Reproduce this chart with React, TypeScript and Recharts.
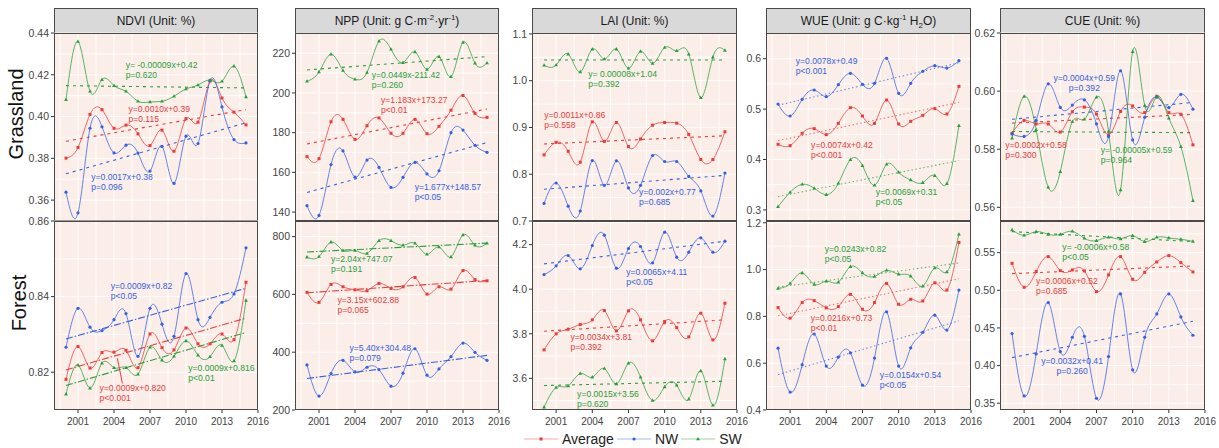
import React from 'react';
import { LineChart, Line, XAxis, YAxis, CartesianGrid, ReferenceDot, ReferenceLine } from 'recharts';

const RED = '#EC3B3B';
const BLUE = '#3461E4';
const GREEN = '#27A03A';
const BG = '#FBEEE8';
const FONT = '"Liberation Sans", Arial, Helvetica, sans-serif';

const years = [2000, 2001, 2002, 2003, 2004, 2005, 2006, 2007, 2008, 2009, 2010, 2011, 2012, 2013, 2014, 2015];
const trendYears = [2000, 2015];
const xTicks = [2001, 2004, 2007, 2010, 2013, 2016];
const seriesNames = ['Average', 'NW', 'SW'];

// ---- NDVI ----
const ndviG_avg = [0.3801, 0.3852, 0.4010, 0.4033, 0.3944, 0.3959, 0.3917, 0.3861, 0.3935, 0.3834, 0.3990, 0.3973, 0.4170, 0.4089, 0.4021, 0.3960];
const ndviG_nw = [0.3638, 0.3539, 0.3944, 0.3951, 0.3826, 0.3863, 0.3825, 0.3739, 0.3857, 0.3680, 0.3906, 0.3871, 0.4172, 0.4046, 0.3890, 0.3874];
const ndviG_sw = [0.4081, 0.4359, 0.4121, 0.4177, 0.4148, 0.4121, 0.4073, 0.4070, 0.4073, 0.4097, 0.4132, 0.4151, 0.4174, 0.4169, 0.4241, 0.4094];
const ndviG_tAvg = [0.3882, 0.4033];
const ndviG_tNw = [0.3726, 0.3970];
const ndviG_tSw = [0.4148, 0.4137];

const ndviF_avg = [0.8181, 0.8268, 0.8211, 0.8252, 0.8253, 0.8258, 0.8212, 0.8301, 0.8265, 0.8259, 0.8317, 0.8275, 0.8275, 0.8301, 0.8286, 0.8438];
const ndviF_nw = [0.8266, 0.8369, 0.8319, 0.8310, 0.8339, 0.8355, 0.8242, 0.8369, 0.8327, 0.8295, 0.8461, 0.8339, 0.8345, 0.8385, 0.8407, 0.8529];
const ndviF_sw = [0.8142, 0.8219, 0.8158, 0.8224, 0.8212, 0.8212, 0.8195, 0.8266, 0.8232, 0.8242, 0.8283, 0.8245, 0.8241, 0.8271, 0.8230, 0.8390];
const ndviF_tAvg = [0.8206, 0.8343];
const ndviF_tNw = [0.8288, 0.8422];
const ndviF_tSw = [0.8165, 0.8305];

// ---- NPP ----
const nppG_avg = [167.9, 166.9, 185.5, 186.7, 176.6, 183.5, 187.4, 179.7, 179.7, 186.7, 179.5, 183.2, 191.3, 198.7, 189.7, 187.7];
const nppG_nw = [143.2, 138.3, 163.9, 170.8, 157.6, 166.2, 162.5, 152.4, 157.5, 165.0, 159.2, 160.8, 180.0, 181.3, 173.6, 170.1];
const nppG_sw = [205.9, 210.6, 219.5, 211.3, 206.9, 210.3, 226.1, 222.0, 215.3, 220.7, 211.9, 218.3, 208.2, 225.5, 215.0, 215.1];
const nppG_tAvg = [174.3, 191.9];
const nppG_tNw = [149.9, 175.0];
const nppG_tSw = [211.6, 218.3];

const nppF_avg = [606.9, 572.5, 634.4, 626.4, 616.0, 612.6, 637.8, 620.6, 626.4, 658.4, 601.0, 626.4, 618.3, 682.5, 651.6, 647.0];
const nppF_nw = [355.9, 248.2, 326.0, 372.0, 331.8, 347.9, 339.9, 282.6, 327.3, 412.0, 320.4, 342.2, 384.5, 431.5, 399.5, 372.0];
const nppF_sw = [729, 731, 781, 752, 752, 742, 786, 786, 770, 777, 739, 764, 730, 806, 770, 777];
const nppF_tAvg = [605.7, 648.0];
const nppF_tNw = [309.0, 389.0];
const nppF_tSw = [746.7, 777.6];

// ---- LAI ----
const laiG_avg = [0.8413, 0.8682, 0.8491, 0.8258, 0.9120, 0.8703, 0.9106, 0.8590, 0.8753, 0.9049, 0.9106, 0.9092, 0.8852, 0.8314, 0.8314, 0.8908];
const laiG_nw = [0.7375, 0.7813, 0.7318, 0.7212, 0.8293, 0.7763, 0.8286, 0.7707, 0.7763, 0.8399, 0.8272, 0.8272, 0.7954, 0.7643, 0.7106, 0.8025];
const laiG_sw = [1.0329, 1.0336, 1.0569, 1.0187, 1.0675, 1.0463, 1.0675, 1.0265, 1.0625, 1.0371, 1.0710, 1.0640, 1.0569, 0.9636, 1.0505, 1.0647];
const laiG_tAvg = [0.8647, 0.8823];
const laiG_tNw = [0.7678, 0.7975];
const laiG_tSw = [1.0442, 1.0442];

const laiF_avg = [3.7277, 3.7996, 3.8205, 3.8414, 3.8624, 3.9043, 3.8130, 3.9028, 3.8624, 3.7681, 3.8549, 3.8280, 3.7861, 3.8923, 3.7726, 3.9372];
const laiF_nw = [4.0658, 4.1047, 4.1511, 4.0912, 4.1960, 4.2423, 4.0942, 4.1825, 4.1915, 4.1182, 4.2558, 4.1436, 4.1660, 4.2304, 4.1660, 4.2154];
const laiF_sw = [3.4705, 3.5587, 3.5662, 3.6215, 3.6051, 3.6439, 3.5752, 3.6679, 3.6051, 3.5004, 3.5617, 3.5692, 3.5064, 3.6335, 3.4794, 3.6874];
const laiF_tAvg = [3.8115, 3.8624];
const laiF_tNw = [4.1137, 4.2154];
const laiF_tSw = [3.5677, 3.5871];

// ---- WUE ----
const wueG_avg = [0.4301, 0.4275, 0.4520, 0.4612, 0.4493, 0.4718, 0.5028, 0.4863, 0.4718, 0.5180, 0.4705, 0.4757, 0.4876, 0.5009, 0.4903, 0.5451];
const wueG_nw = [0.5101, 0.4863, 0.5194, 0.5379, 0.5247, 0.5484, 0.5709, 0.5491, 0.5511, 0.6007, 0.5313, 0.5511, 0.5749, 0.5861, 0.5815, 0.5960];
const wueG_sw = [0.3065, 0.3350, 0.3508, 0.3429, 0.3303, 0.3528, 0.3997, 0.3878, 0.3488, 0.3905, 0.3746, 0.3594, 0.3541, 0.3680, 0.3521, 0.4672];
const wueG_tAvg = [0.4374, 0.5134];
const wueG_tNw = [0.5075, 0.5921];
const wueG_tSw = [0.3264, 0.3978];

const wueF_avg = [0.8377, 0.7925, 0.8589, 0.8673, 0.8363, 0.8419, 0.8941, 0.8306, 0.8589, 0.9407, 0.8518, 0.8730, 0.8659, 0.9435, 0.9125, 1.1157];
const wueF_nw = [0.6641, 0.4764, 0.5935, 0.7248, 0.5879, 0.6260, 0.6443, 0.5060, 0.6217, 0.8193, 0.5879, 0.6655, 0.7318, 0.8052, 0.7417, 0.9125];
const wueF_sw = [0.9195, 0.9407, 0.9859, 0.9365, 0.9506, 0.9464, 1.0127, 0.9859, 0.9704, 0.9972, 0.9802, 0.9718, 0.9294, 1.0071, 0.9901, 1.1510];
const wueF_tAvg = [0.8024, 0.9605];
const wueF_tNw = [0.5512, 0.7812];
const wueF_tSw = [0.9252, 1.0282];

// ---- CUE ----
const cueG_avg = [0.5855, 0.5899, 0.5887, 0.5887, 0.5859, 0.5929, 0.5945, 0.5921, 0.5849, 0.5930, 0.5949, 0.5926, 0.5982, 0.5926, 0.5920, 0.5815];
const cueG_nw = [0.5852, 0.5844, 0.5899, 0.6025, 0.5944, 0.5952, 0.5970, 0.5887, 0.5844, 0.6070, 0.5832, 0.5910, 0.5979, 0.5943, 0.5989, 0.5938];
const cueG_sw = [0.5838, 0.5982, 0.5867, 0.5669, 0.5723, 0.5895, 0.5903, 0.5979, 0.5861, 0.5660, 0.6136, 0.5951, 0.5982, 0.5907, 0.5809, 0.5623];
const cueG_tAvg = [0.5890, 0.5920];
const cueG_tNw = [0.5903, 0.5961];
const cueG_tSw = [0.5861, 0.5857];

const cueF_avg = [0.5358, 0.5040, 0.5248, 0.5447, 0.5261, 0.5270, 0.5257, 0.4982, 0.5204, 0.5447, 0.5146, 0.5239, 0.5376, 0.5460, 0.5367, 0.5243];
const cueF_nw = [0.4425, 0.3597, 0.4155, 0.4836, 0.4186, 0.4376, 0.4389, 0.3566, 0.4119, 0.4951, 0.3942, 0.4376, 0.4686, 0.4951, 0.4646, 0.4403];
const cueF_sw = [0.5801, 0.5730, 0.5779, 0.5743, 0.5743, 0.5783, 0.5690, 0.5659, 0.5704, 0.5682, 0.5726, 0.5646, 0.5704, 0.5695, 0.5677, 0.5650];
const cueF_tAvg = [0.5221, 0.5323];
const cueF_tNw = [0.4106, 0.4588];
const cueF_tSw = [0.5779, 0.5646];

// ---- Regression notes (text, anchored at year / value) ----
type Note = { s: 'avg' | 'nw' | 'sw'; x: number; y: number; lines: string[]; center?: boolean };

const ndviG_notes: Note[] = [
  { s: 'sw', x: 2004.98, y: 0.4247, lines: ['y= -0.00009x+0.42', 'p=0.620'] },
  { s: 'avg', x: 2005.2, y: 0.4038, lines: ['y=0.0010x+0.39', 'p=0.115'] },
  { s: 'nw', x: 2002.1, y: 0.371, lines: ['y=0.0017x+0.38', 'p=0.096'] },
];
const ndviF_notes: Note[] = [
  { s: 'nw', x: 2003.72, y: 0.8429, lines: ['y=0.0009x+0.82', 'p<0.05'] },
  { s: 'avg', x: 2002.79, y: 0.8159, lines: ['y=0.0009x+0.820', 'p<0.001'] },
  { s: 'sw', x: 2010.18, y: 0.8211, lines: ['y=0.0009x+0.816', 'p<0.01'] },
];
const nppG_notes: Note[] = [
  { s: 'sw', x: 2005.39, y: 208.9, lines: ['y=0.0449x-211.42', 'p=0.260'] },
  { s: 'avg', x: 2006.17, y: 196.5, lines: ['y=1.183x+173.27', 'p<0.01'] },
  { s: 'nw', x: 2008.97, y: 152.4, lines: ['y=1.677x+148.57', 'p<0.05'] },
];
const nppF_notes: Note[] = [
  { s: 'sw', x: 2001.99, y: 721.5, lines: ['y=2.04x+747.07', 'p=0.191'] },
  { s: 'avg', x: 2002.54, y: 579.4, lines: ['y=3.15x+602.88', 'p=0.065'] },
  { s: 'nw', x: 2003.54, y: 414.3, lines: ['y=5.40x+304.48', 'p=0.079'] },
];
const laiG_notes: Note[] = [
  { s: 'sw', x: 2003.66, y: 1.0138, lines: ['y= 0.00008x+1.04', 'p=0.392'] },
  { s: 'avg', x: 2000.02, y: 0.9269, lines: ['y=0.0011x+0.86', 'p=0.558'] },
  { s: 'nw', x: 2007.87, y: 0.7615, lines: ['y=0.002x+0.77', 'p=0.685'] },
];
const laiF_notes: Note[] = [
  { s: 'nw', x: 2006.82, y: 4.0778, lines: ['y=0.0065x+4.11', 'p<0.05'] },
  { s: 'avg', x: 2002.19, y: 3.7846, lines: ['y=0.0034x+3.81', 'p=0.392'] },
  { s: 'sw', x: 2002.74, y: 3.5303, lines: ['y=0.0015x+3.56', 'p=0.620'] },
];
const wueG_notes: Note[] = [
  { s: 'nw', x: 2001.47, y: 0.5954, lines: ['y=0.0078x+0.49', 'p<0.001'] },
  { s: 'avg', x: 2002.74, y: 0.4288, lines: ['y=0.0074x+0.42', 'p<0.001'] },
  { s: 'sw', x: 2008.1, y: 0.3356, lines: ['y=0.0069x+0.31', 'p<0.05'] },
];
const wueF_notes: Note[] = [
  { s: 'sw', x: 2003.87, y: 1.0875, lines: ['y=0.0243x+0.82', 'p<0.05'] },
  { s: 'avg', x: 2002.71, y: 0.7925, lines: ['y=0.0216x+0.73', 'p<0.01'] },
  { s: 'nw', x: 2008.43, y: 0.5483, lines: ['y=0.0154x+0.54', 'p<0.05'] },
];
const cueG_notes: Note[] = [
  { s: 'nw', x: 2005.99, y: 0.6044, lines: ['y=0.0004x+0.59', 'p=0.392'], center: true },
  { s: 'avg', x: 1999.43, y: 0.5814, lines: ['y=0.0002x+0.58', 'p=0.300'] },
  { s: 'sw', x: 2007.35, y: 0.5799, lines: ['y= -0.00005x+0.59', 'p=0.964'] },
];
const cueF_notes: Note[] = [
  { s: 'sw', x: 2004.17, y: 0.5571, lines: ['y= -0.0006x+0.58', 'p<0.05'] },
  { s: 'avg', x: 2001.99, y: 0.5119, lines: ['y=0.0006x+0.52', 'p=0.685'] },
  { s: 'nw', x: 2004.98, y: 0.4066, lines: ['y=0.0032x+0.41', 'p=0.260'], center: true },
];

const COLORS: Record<string, string> = { avg: RED, nw: BLUE, sw: GREEN };

const sqDot = (p: any) => (
  <rect key={`a${p.index}`} x={p.cx - 1.5} y={p.cy - 1.5} width={3} height={3} fill={RED} />
);
const circDot = (p: any) => <circle key={`n${p.index}`} cx={p.cx} cy={p.cy} r={1.6} fill={BLUE} />;
const triDot = (p: any) => (
  <path
    key={`s${p.index}`}
    d={`M${p.cx},${p.cy - 2.1} L${p.cx + 1.9},${p.cy + 1.3} L${p.cx - 1.9},${p.cy + 1.3} Z`}
    fill={GREEN}
  />
);

type PanelProps = {
  left: number;
  width: number;
  top: number;
  height: number;
  showX: boolean;
  domain: [number, number];
  ticks: number[];
  dec: number;
  avg: number[];
  nw: number[];
  sw: number[];
  tAvg: number[];
  tNw: number[];
  tSw: number[];
  notes: Note[];
  dash: string;
  trendOpacity?: number;
  arrow?: { x: number; y: number }[];
};

function Panel(props: PanelProps) {
  const { left, width, top, height, showX, domain, ticks, dec, avg, nw, sw, tAvg, tNw, tSw, notes, dash, arrow } = props;
  const yW = 46;
  const mT = 8;
  const mR = 18;
  const mB = showX ? 0 : 8;
  const xH = showX ? 26 : 0;
  const rows = years.map((yr, i) => ({ year: yr, avg: avg[i], nw: nw[i], sw: sw[i] }));
  const trendRows = trendYears.map((yr, i) => ({ year: yr, avg: tAvg[i], nw: tNw[i], sw: tSw[i] }));
  const step = ticks[1] - ticks[0];
  const hVals: number[] = [];
  for (let v = ticks[0] - step / 2; v <= domain[1] + 1e-9; v += step / 2) if (v >= domain[0] - 1e-9) hVals.push(v);
  const vVals: number[] = [];
  for (let v = 1999.5; v <= 2016.01; v += 1.5) vVals.push(v);
  const W = yW + width + mR;
  const H = mT + height + xH + mB;
  const op = props.trendOpacity ?? 1;
  return (
    <div style={{ position: 'absolute', left: left - yW, top: top - mT, width: W, height: H }}>
      <LineChart width={W} height={H} data={rows} margin={{ top: mT, right: mR, bottom: mB, left: 0 }}>
        <CartesianGrid
          fill={BG}
          fillOpacity={1}
          stroke="#ffffff"
          strokeWidth={0.9}
          horizontalValues={hVals}
          verticalValues={vVals}
        />
        <XAxis
          dataKey="year"
          type="number"
          domain={[1999, 2016]}
          ticks={xTicks}
          allowDataOverflow
          hide={!showX}
          height={xH}
          interval={0}
          tickSize={3}
          tickMargin={5}
          axisLine={false}
          tickLine={{ stroke: '#333' }}
          tick={{ fontSize: 10, fill: '#444', fontFamily: FONT }}
        />
        <YAxis
          type="number"
          domain={domain}
          ticks={ticks}
          allowDataOverflow
          width={yW}
          interval={0}
          tickSize={3}
          tickMargin={2}
          axisLine={false}
          tickLine={{ stroke: '#333' }}
          tick={{ fontSize: 10.5, fill: '#444', fontFamily: FONT }}
          tickFormatter={(v: number) => Number(v).toFixed(dec)}
        />
        {(['avg', 'nw', 'sw'] as const).map((k) => (
          <Line
            key={`t-${k}`}
            data={trendRows}
            dataKey={k}
            type="linear"
            stroke={COLORS[k]}
            strokeOpacity={op}
            strokeWidth={1.1}
            strokeDasharray={dash}
            dot={false}
            activeDot={false}
            isAnimationActive={false}
            legendType="none"
          />
        ))}
        <Line dataKey="avg" name={seriesNames[0]} type="natural" stroke={RED} strokeOpacity={0.85} strokeWidth={0.9} dot={sqDot} activeDot={false} isAnimationActive={false} />
        <Line dataKey="nw" name={seriesNames[1]} type="natural" stroke={BLUE} strokeOpacity={0.85} strokeWidth={0.9} dot={circDot} activeDot={false} isAnimationActive={false} />
        <Line dataKey="sw" name={seriesNames[2]} type="natural" stroke={GREEN} strokeOpacity={0.85} strokeWidth={0.9} dot={triDot} activeDot={false} isAnimationActive={false} />
        {arrow ? (
          <ReferenceLine segment={arrow} stroke={RED} strokeWidth={1} ifOverflow="visible" />
        ) : null}
        {notes.map((n, i) => (
          <ReferenceDot
            key={`note-${i}`}
            x={n.x}
            y={n.y}
            r={0}
            ifOverflow="visible"
            shape={(p: any) => (
              <text
                x={p.cx}
                y={p.cy + 3}
                fill={COLORS[n.s]}
                fontSize={8.6}
                fontFamily={FONT}
                textAnchor={n.center ? 'middle' : 'start'}
              >
                {n.lines.map((ln, j) => (
                  <tspan key={j} x={p.cx} dy={j === 0 ? 0 : 10}>
                    {ln}
                  </tspan>
                ))}
              </text>
            )}
          />
        ))}
      </LineChart>
      <div
        style={{
          position: 'absolute',
          left: yW,
          top: mT,
          width,
          height,
          border: '1px solid #4a4a4a',
          boxSizing: 'border-box',
          pointerEvents: 'none',
        }}
      />
    </div>
  );
}

const COL_LEFT = [54, 295, 532, 766, 1000];
const COL_W = [204, 204, 205, 205, 205];
const ROW1_TOP = 33;
const ROW1_H = 188;
const ROW2_TOP = 221;
const ROW2_H = 189;

function Header({ col, children }: { col: number; children: React.ReactNode }) {
  return (
    <div
      style={{
        position: 'absolute',
        left: COL_LEFT[col],
        top: 8,
        width: COL_W[col],
        height: 26,
        background: '#D9D9D9',
        border: '1px solid #4a4a4a',
        boxSizing: 'border-box',
        display: 'flex',
        alignItems: 'center',
        justifyContent: 'center',
        fontSize: 12,
        color: '#1a1a1a',
        fontFamily: FONT,
        whiteSpace: 'nowrap',
      }}
    >
      {children}
    </div>
  );
}

const supStyle: React.CSSProperties = { fontSize: 8, verticalAlign: 'super', lineHeight: 0 };
const subStyle: React.CSSProperties = { fontSize: 8, verticalAlign: 'sub', lineHeight: 0 };

function LegendKey({ color, shape }: { color: string; shape: 'sq' | 'c' | 't' }) {
  return (
    <svg width={34} height={12} style={{ display: 'block' }}>
      <line x1={0} y1={6} x2={34} y2={6} stroke={color} strokeOpacity={0.45} strokeWidth={1.2} />
      {shape === 'sq' ? <rect x={15.5} y={4.5} width={3} height={3} fill={color} /> : null}
      {shape === 'c' ? <circle cx={17} cy={6} r={1.6} fill={color} /> : null}
      {shape === 't' ? <path d="M17,3.9 L18.9,7.3 L15.1,7.3 Z" fill={color} /> : null}
    </svg>
  );
}

export default function App() {
  return (
    <div
      style={{
        position: 'absolute',
        left: 0,
        top: 0,
        width: 1219,
        height: 448,
        background: '#ffffff',
        overflow: 'hidden',
        fontFamily: FONT,
      }}
    >
      <Header col={0}>NDVI (Unit: %)</Header>
      <Header col={1}>
        <span>
          NPP (Unit: g C·m<span style={supStyle}>-2</span>·yr<span style={supStyle}>-1</span>)
        </span>
      </Header>
      <Header col={2}>LAI (Unit: %)</Header>
      <Header col={3}>
        <span>
          WUE (Unit: g C·kg<span style={supStyle}>-1</span> H<span style={subStyle}>2</span>O)
        </span>
      </Header>
      <Header col={4}>CUE (Unit: %)</Header>

      {/* Grassland row */}
      <Panel left={COL_LEFT[0]} width={COL_W[0]} top={ROW1_TOP} height={ROW1_H} showX={false}
        domain={[0.35, 0.44]} ticks={[0.36, 0.38, 0.4, 0.42, 0.44]} dec={2}
        avg={ndviG_avg} nw={ndviG_nw} sw={ndviG_sw} tAvg={ndviG_tAvg} tNw={ndviG_tNw} tSw={ndviG_tSw}
        notes={ndviG_notes} dash="3 4" />
      <Panel left={COL_LEFT[1]} width={COL_W[1]} top={ROW1_TOP} height={ROW1_H} showX={false}
        domain={[135.5, 230.2]} ticks={[140, 160, 180, 200, 220]} dec={0}
        avg={nppG_avg} nw={nppG_nw} sw={nppG_sw} tAvg={nppG_tAvg} tNw={nppG_tNw} tSw={nppG_tSw}
        notes={nppG_notes} dash="3 4" />
      <Panel left={COL_LEFT[2]} width={COL_W[2]} top={ROW1_TOP} height={ROW1_H} showX={false}
        domain={[0.7, 1.102]} ticks={[0.7, 0.8, 0.9, 1.0, 1.1]} dec={1}
        avg={laiG_avg} nw={laiG_nw} sw={laiG_sw} tAvg={laiG_tAvg} tNw={laiG_tNw} tSw={laiG_tSw}
        notes={laiG_notes} dash="3 4" />
      <Panel left={COL_LEFT[3]} width={COL_W[3]} top={ROW1_TOP} height={ROW1_H} showX={false}
        domain={[0.278, 0.651]} ticks={[0.3, 0.4, 0.5, 0.6]} dec={1}
        avg={wueG_avg} nw={wueG_nw} sw={wueG_sw} tAvg={wueG_tAvg} tNw={wueG_tNw} tSw={wueG_tSw}
        notes={wueG_notes} dash="1.5 2.5" trendOpacity={0.7} />
      <Panel left={COL_LEFT[4]} width={COL_W[4]} top={ROW1_TOP} height={ROW1_H} showX={false}
        domain={[0.5553, 0.62]} ticks={[0.56, 0.58, 0.6, 0.62]} dec={2}
        avg={cueG_avg} nw={cueG_nw} sw={cueG_sw} tAvg={cueG_tAvg} tNw={cueG_tNw} tSw={cueG_tSw}
        notes={cueG_notes} dash="3 4" />

      {/* Forest row */}
      <Panel left={COL_LEFT[0]} width={COL_W[0]} top={ROW2_TOP} height={ROW2_H} showX={true}
        domain={[0.81, 0.86]} ticks={[0.82, 0.84, 0.86]} dec={2}
        avg={ndviF_avg} nw={ndviF_nw} sw={ndviF_sw} tAvg={ndviF_tAvg} tNw={ndviF_tNw} tSw={ndviF_tSw}
        notes={ndviF_notes} dash="7 2 1.5 2"
        arrow={[{ x: 2004.7, y: 0.817 }, { x: 2004.28, y: 0.8237 }]} />
      <Panel left={COL_LEFT[1]} width={COL_W[1]} top={ROW2_TOP} height={ROW2_H} showX={true}
        domain={[200, 854]} ticks={[200, 400, 600, 800]} dec={0}
        avg={nppF_avg} nw={nppF_nw} sw={nppF_sw} tAvg={nppF_tAvg} tNw={nppF_tNw} tSw={nppF_tSw}
        notes={nppF_notes} dash="7 2 1.5 2" />
      <Panel left={COL_LEFT[2]} width={COL_W[2]} top={ROW2_TOP} height={ROW2_H} showX={true}
        domain={[3.458, 4.306]} ticks={[3.6, 3.8, 4.0, 4.2]} dec={1}
        avg={laiF_avg} nw={laiF_nw} sw={laiF_sw} tAvg={laiF_tAvg} tNw={laiF_tNw} tSw={laiF_tSw}
        notes={laiF_notes} dash="3 4" />
      <Panel left={COL_LEFT[3]} width={COL_W[3]} top={ROW2_TOP} height={ROW2_H} showX={true}
        domain={[0.4, 1.2076]} ticks={[0.4, 0.6, 0.8, 1.0, 1.2]} dec={1}
        avg={wueF_avg} nw={wueF_nw} sw={wueF_sw} tAvg={wueF_tAvg} tNw={wueF_tNw} tSw={wueF_tSw}
        notes={wueF_notes} dash="1.5 2.5" trendOpacity={0.7} />
      <Panel left={COL_LEFT[4]} width={COL_W[4]} top={ROW2_TOP} height={ROW2_H} showX={true}
        domain={[0.341, 0.592]} ticks={[0.35, 0.4, 0.45, 0.5, 0.55]} dec={2}
        avg={cueF_avg} nw={cueF_nw} sw={cueF_sw} tAvg={cueF_tAvg} tNw={cueF_tNw} tSw={cueF_tSw}
        notes={cueF_notes} dash="3 4" />

      {/* Row labels */}
      <div style={{ position: 'absolute', left: 16, top: 114, transform: 'translate(-50%, -50%) rotate(-90deg)', fontSize: 20, lineHeight: '20px', color: '#111', whiteSpace: 'nowrap' }}>
        Grassland
      </div>
      <div style={{ position: 'absolute', left: 19, top: 303, transform: 'translate(-50%, -50%) rotate(-90deg)', fontSize: 20, lineHeight: '20px', color: '#111', whiteSpace: 'nowrap' }}>
        Forest
      </div>

      {/* Legend */}
      <div style={{ position: 'absolute', left: 524, top: 430, height: 18, display: 'flex', alignItems: 'center', fontSize: 14, color: '#222' }}>
        <LegendKey color={RED} shape="sq" />
        <span style={{ marginLeft: 4, marginRight: 3 }}>{seriesNames[0]}</span>
        <LegendKey color={BLUE} shape="c" />
        <span style={{ marginLeft: 4, marginRight: 3 }}>{seriesNames[1]}</span>
        <LegendKey color={GREEN} shape="t" />
        <span style={{ marginLeft: 4 }}>{seriesNames[2]}</span>
      </div>
    </div>
  );
}
